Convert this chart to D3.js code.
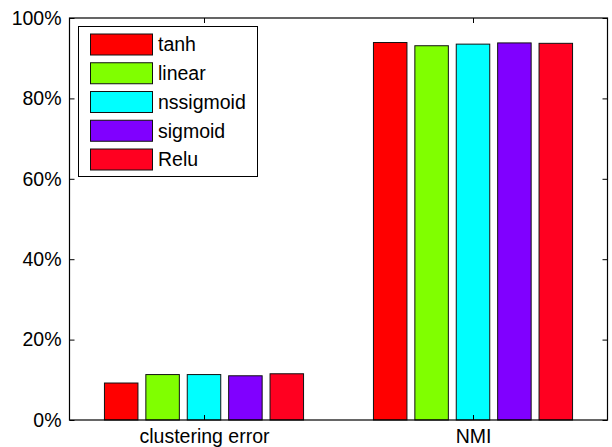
<!DOCTYPE html>
<html><head><meta charset="utf-8">
<script src="https://cdn.jsdelivr.net/npm/d3@7"></script>
<style>body{margin:0;background:#fff}svg{display:block}text{font-family:"Liberation Sans",Arial,sans-serif;fill:#000}</style>
</head><body><svg id="c" width="612" height="447"></svg>
<script>
const categories = ["clustering error", "NMI"];
const seriesNames = ["tanh", "linear", "nssigmoid", "sigmoid", "Relu"];
const seriesColors = ["#ff0000", "#80ff00", "#00ffff", "#8000ff", "#ff0020"];
const tanhVals = [9.2, 93.9];
const linearVals = [11.3, 93.1];
const nssigmoidVals = [11.3, 93.5];
const sigmoidVals = [11.0, 93.8];
const reluVals = [11.5, 93.7];
const yTicks = [0, 20, 40, 60, 80, 100];
const seriesVals = [tanhVals, linearVals, nssigmoidVals, sigmoidVals, reluVals];

const L = 69.5, R = 607.5, T = 18, B = 420;
const FS = "19.5px";
const svg = d3.select("#c");
const x = d3.scaleLinear().domain([0.5, 2.5]).range([L, R]);
const y = d3.scaleLinear().domain([0, 100]).range([B, T]);
const pitch = 41.4, bw = 33.5;

// bars
seriesVals.forEach((vals, s) => {
  svg.append("g").selectAll("rect").data(vals).join("rect")
    .attr("x", (d, i) => x(i + 1) + (s - 2) * pitch - bw / 2)
    .attr("y", d => y(d))
    .attr("width", bw)
    .attr("height", d => y(0) - y(d))
    .attr("fill", seriesColors[s])
    .attr("stroke", "#111").attr("stroke-width", 1);
});

// axes box
svg.append("rect").attr("x", L).attr("y", T).attr("width", R - L).attr("height", B - T)
  .attr("fill", "none").attr("stroke", "#000").attr("stroke-width", 1.2);

// y axis (left, inward ticks)
const yl = svg.append("g").attr("transform", `translate(${L},0)`)
  .call(d3.axisLeft(y).tickValues(yTicks).tickFormat(d => d + "%").tickSizeInner(-5).tickSizeOuter(0).tickPadding(8));
yl.select(".domain").remove();
yl.selectAll("text").style("font-size", FS).style("font-family", '"Liberation Sans",Arial,sans-serif');
yl.selectAll("line").attr("stroke", "#000");
// right ticks
const yr = svg.append("g").attr("transform", `translate(${R},0)`)
  .call(d3.axisRight(y).tickValues(yTicks).tickFormat("").tickSizeInner(-5).tickSizeOuter(0));
yr.select(".domain").remove();

// x axis
const xb = svg.append("g").attr("transform", `translate(0,${B})`)
  .call(d3.axisBottom(x).tickValues([1, 2]).tickFormat((d) => categories[d - 1]).tickSizeInner(-5).tickSizeOuter(0).tickPadding(9));
xb.select(".domain").remove();
xb.selectAll("text").style("font-size", FS).style("font-family", '"Liberation Sans",Arial,sans-serif');
const xt = svg.append("g").attr("transform", `translate(0,${T})`)
  .call(d3.axisTop(x).tickValues([1, 2]).tickFormat("").tickSizeInner(-5).tickSizeOuter(0));
xt.select(".domain").remove();

// legend
const lg = svg.append("g");
lg.append("rect").attr("x", 78.5).attr("y", 26.5).attr("width", 179).attr("height", 150)
  .attr("fill", "#fff").attr("stroke", "#000").attr("stroke-width", 1);
seriesNames.forEach((n, i) => {
  const cy = 44.5 + i * 28.75;
  lg.append("rect").attr("x", 90.5).attr("y", cy - 10.5).attr("width", 62).attr("height", 21)
    .attr("fill", seriesColors[i]).attr("stroke", "#111").attr("stroke-width", 1);
  lg.append("text").attr("x", 158).attr("y", cy).attr("dy", "0.35em")
    .style("font-size", FS).text(n);
});
</script></body></html>
